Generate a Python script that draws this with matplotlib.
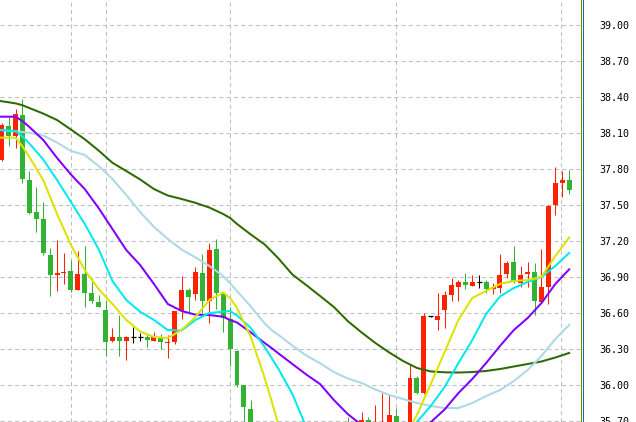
import numpy as np
import matplotlib
matplotlib.use('Agg')
import matplotlib.pyplot as plt
from matplotlib.lines import Line2D

nan = np.nan
#----- candle data (index 0..82), NaN = candle below the visible range
opens = [37.875, 38.158, 38.078, 38.25, 37.708, 37.442, 37.383, 37.083, 36.92, 36.935,
         36.953, 36.794, 36.925, 36.767, 36.689, 36.625, 36.369, 36.397, 36.369, 36.397,
         36.397, 36.403, 36.369, 36.403, 36.352, 36.361, 36.617, 36.792, 36.756, 36.936,
         36.70, 37.133, 36.769, 36.547, 36.283, 36.00, 35.80, nan, nan, nan,
         nan, nan, nan, nan, nan, nan, nan, nan, nan, nan,
         35.68, nan, 35.66, 35.712, 35.60, 35.60, 35.62, 35.742, nan, 35.66,
         36.061, 35.931, 36.572, 36.542, 36.625, 36.75, 36.819, 36.858, 36.828, 36.856,
         36.858, 36.797, 36.811, 36.925, 37.025, 36.853, 36.925, 36.942, 36.694, 36.819,
         37.50, 37.686, 37.708]
highs = [38.183, 38.242, 38.30, 38.383, 37.783, 37.65, 37.525, 37.144, 37.208, 37.103,
         37.044, 37.119, 37.158, 36.894, 36.75, 36.708, 36.475, 36.583, 36.408, 36.486,
         36.436, 36.425, 36.442, 36.425, 36.417, 36.614, 36.911, 36.806, 36.986, 37.092,
         37.181, 37.214, 36.775, 36.647, 36.292, 36.00, 35.875, nan, nan, nan,
         nan, nan, nan, nan, nan, nan, nan, nan, nan, nan,
         35.73, nan, 35.775, 35.735, 35.833, 35.93, 35.925, 35.81, nan, 36.167,
         36.078, 36.597, 36.575, 36.769, 36.786, 36.894, 36.872, 36.936, 36.917, 36.917,
         36.875, 36.847, 37.092, 37.033, 37.158, 36.992, 37.022, 37.017, 37.133, 37.50,
         37.819, 37.783, 37.792]
lows = [37.867, 37.994, 37.972, 37.686, 37.425, 37.278, 37.083, 36.744, 36.786, 36.842,
        36.772, 36.794, 36.653, 36.681, 36.65, 36.242, 36.358, 36.242, 36.208, 36.347,
        36.369, 36.319, 36.369, 36.297, 36.222, 36.342, 36.55, 36.589, 36.708, 36.597,
        36.519, 36.633, 36.444, 36.161, 35.981, 35.703, 35.55, nan, nan, nan,
        nan, nan, nan, nan, nan, nan, nan, nan, nan, nan,
        35.60, nan, 35.62, 35.62, 35.58, 35.58, 35.60, 35.62, nan, 35.64,
        35.922, 35.922, 36.569, 36.458, 36.478, 36.703, 36.703, 36.803, 36.828, 36.808,
        36.769, 36.761, 36.769, 36.894, 36.853, 36.819, 36.819, 36.586, 36.681, 36.675,
        37.417, 37.569, 37.594]
closes = [38.167, 38.078, 38.258, 37.719, 37.436, 37.386, 37.103, 36.917, 36.93, 36.945,
          36.794, 36.925, 36.769, 36.703, 36.65, 36.361, 36.397, 36.369, 36.397, 36.397,
          36.397, 36.375, 36.403, 36.361, 36.362, 36.614, 36.792, 36.736, 36.944, 36.70,
          37.125, 36.764, 36.556, 36.303, 36.00, 35.819, 35.62, nan, nan, nan,
          nan, nan, nan, nan, nan, nan, nan, nan, nan, nan,
          35.65, nan, 35.712, 35.66, 35.67, 35.68, 35.75, 35.66, nan, 36.061,
          35.931, 36.578, 36.572, 36.578, 36.75, 36.833, 36.861, 36.836, 36.858, 36.856,
          36.797, 36.817, 36.917, 37.017, 36.858, 36.917, 36.944, 36.703, 36.819, 37.494,
          37.686, 37.708, 37.628]

#----- moving averages
ma_idx = [-0.25, 2, 3, 4, 6, 8, 10, 12, 14, 16, 18, 20, 22, 24, 26, 28, 30, 32, 33, 34,
          36, 38, 39, 40, 42, 44, 46, 48, 50, 52, 54, 56, 58, 60, 62, 64, 66, 68, 70, 72,
          74, 76, 78, 80, 82]
ma_green = [38.367, 38.347, 38.331, 38.308, 38.262, 38.208, 38.129, 38.048, 37.954, 37.852,
            37.783, 37.713, 37.633, 37.579, 37.55, 37.518, 37.479, 37.425, 37.392, 37.342,
            37.254, 37.171, 37.113, 37.054, 36.921, 36.833, 36.742, 36.65, 36.533, 36.438,
            36.35, 36.271, 36.20, 36.142, 36.113, 36.106, 36.104, 36.108, 36.117, 36.133,
            36.154, 36.175, 36.196, 36.229, 36.267]
ma_lightblue = [38.125, 38.114, 38.108, 38.102, 38.079, 38.021, 37.95, 37.917, 37.825, 37.717,
                37.583, 37.442, 37.317, 37.217, 37.129, 37.063, 36.992, 36.908, 36.848, 36.783,
                36.654, 36.513, 36.458, 36.417, 36.329, 36.246, 36.181, 36.108, 36.054, 36.017,
                35.963, 35.917, 35.883, 35.85, 35.825, 35.808, 35.808, 35.85, 35.908, 35.958,
                36.033, 36.125, 36.242, 36.383, 36.50]
ma_purple = [38.236, 38.236, 38.20, 38.15, 38.042, 37.892, 37.754, 37.633, 37.475, 37.30,
             37.125, 37.00, 36.842, 36.675, 36.617, 36.586, 36.583, 36.569, 36.542, 36.521,
             36.438, 36.35, 36.308, 36.263, 36.175, 36.088, 36.008, 35.875, 35.758, 35.667,
             35.63, 35.61, 35.61, 35.64, 35.69, 35.796, 35.933, 36.05, 36.183, 36.325,
             36.458, 36.558, 36.683, 36.842, 36.964]
ma_cyan = [38.125, 38.117, 38.071, 38.013, 37.879, 37.708, 37.525, 37.342, 37.133, 36.867,
           36.708, 36.611, 36.542, 36.458, 36.454, 36.542, 36.60, 36.611, 36.617, 36.579,
           36.475, 36.317, 36.225, 36.133, 35.925, 35.65, 35.5, 35.42, 35.40, 35.40,
           35.42, 35.47, 35.56, 35.692, 35.825, 35.983, 36.183, 36.375, 36.592, 36.738,
           36.808, 36.858, 36.90, 36.992, 37.10]
ma_yellow = [38.061, 38.061, 37.988, 37.90, 37.708, 37.425, 37.167, 36.958, 36.80, 36.675,
             36.542, 36.446, 36.40, 36.392, 36.458, 36.567, 36.708, 36.771, 36.725, 36.642,
             36.40, 36.058, 35.867, 35.667, 35.45, 35.35, 35.30, 35.30, 35.33, 35.38,
             35.42, 35.48, 35.55, 35.75, 36.008, 36.275, 36.542, 36.725, 36.783, 36.842,
             36.867, 36.875, 36.90, 37.075, 37.229]

price_ticks = [35.70, 36.00, 36.30, 36.60, 36.90, 37.20, 37.50, 37.80, 38.10, 38.40, 38.70, 39.00]
vgrid_idx = [10, 15, 33, 57, 80.75]

#----- figure
fig = plt.figure(figsize=(6.36, 4.22), dpi=100)
ax = fig.add_axes([0, 0, 581/636, 1])

o = np.array(opens); h = np.array(highs); l = np.array(lows); c = np.array(closes)
x = np.arange(len(o))
ok = ~np.isnan(o)
up = ok & (c > o)
dn = ok & (c < o)
dj = ok & (c == o)
RED, GREEN = '#ff2200', '#33b233'

for m, col in [(up, RED), (dn, GREEN), (dj, 'black')]:
    ax.vlines(x[m], l[m], h[m], color=col, lw=0.75, zorder=2)
for m, col in [(up, RED), (dn, GREEN)]:
    ax.bar(x[m], np.abs(c[m]-o[m]), bottom=np.minimum(o[m], c[m]), width=0.72,
           color=col, linewidth=0, zorder=3)
ax.hlines(o[dj], x[dj]-0.36, x[dj]+0.36, color='black', lw=0.9, zorder=3)

#----- moving averages
for vals, col in [(ma_green, '#2f6a00'), (ma_lightblue, '#add8e6'), (ma_purple, '#7f00ff'),
                  (ma_cyan, '#00e8f0'), (ma_yellow, '#dde300')]:
    ax.plot(ma_idx, vals, color=col, lw=1.45, zorder=4)

ax.set_xlim(-0.246, 83.71)
ax.set_ylim(35.6917, 39.2083)
ax.set_yticks(price_ticks)
ax.set_yticklabels(['%.2f' % v for v in price_ticks], fontfamily='DejaVu Sans Mono')
ax.yaxis.tick_right()
ax.tick_params(axis='y', length=0, pad=13, labelsize=7.2)
ax.set_xticks(vgrid_idx)
ax.tick_params(axis='x', length=0, labelbottom=False)
ax.grid(True, color='#c0c0c0', linestyle=(0, (4, 3)), linewidth=0.75, zorder=0)
ax.set_axisbelow(True)
for s in ['top', 'left', 'bottom']:
    ax.spines[s].set_visible(False)
ax.spines['right'].set_color('#808000')
ax.spines['right'].set_linewidth(0.75)
fig.add_artist(Line2D([582.8/636]*2, [0, 1], color='#008080', lw=0.75,
                      transform=fig.transFigure))

fig.savefig('out.png', dpi=100)
